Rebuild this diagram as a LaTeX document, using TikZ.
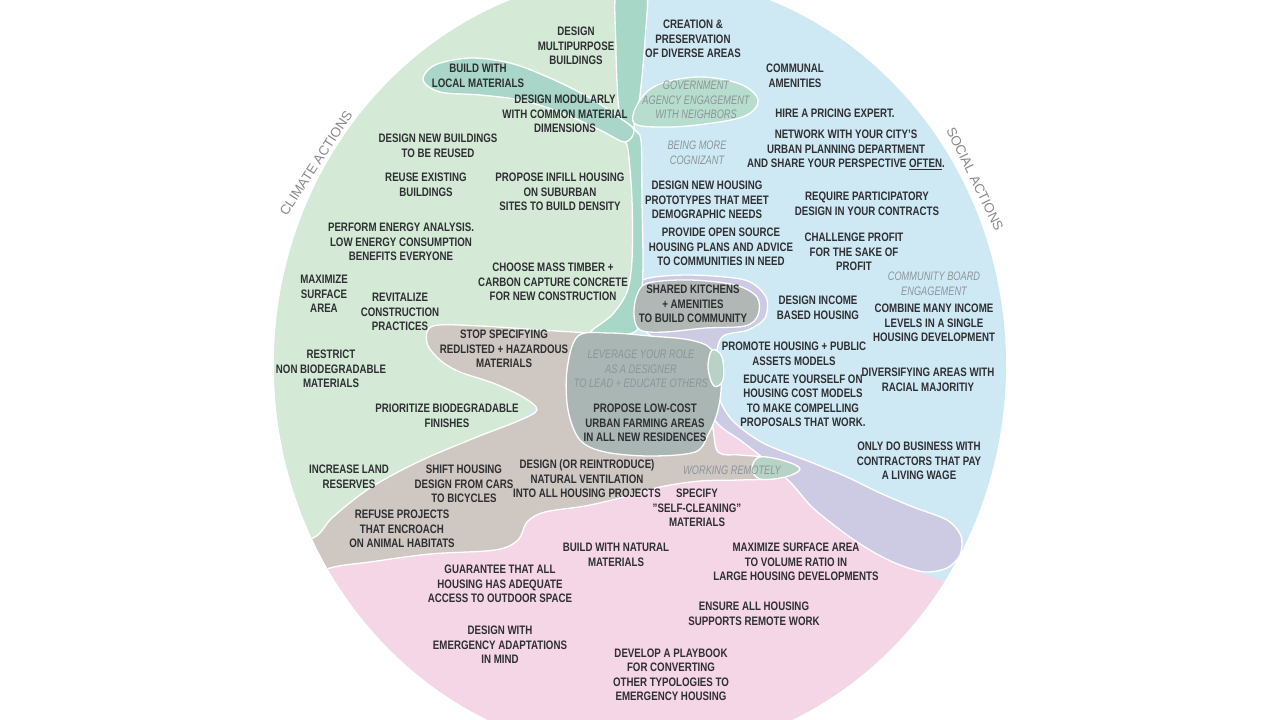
\documentclass[tikz,border=0pt]{standalone}
\usepackage{fontspec}
\setmainfont{Liberation Sans}[FakeStretch=0.79]
\newfontfamily\labelfont{Liberation Sans}
\newfontfamily\softfont{Liberation Sans}[FakeStretch=0.75]
\definecolor{cgreen}{HTML}{D4EAD6}
\definecolor{cblue}{HTML}{CFE9F4}
\definecolor{cpink}{HTML}{F5D6E6}
\definecolor{ctaupe}{HTML}{CFC7C2}
\definecolor{cteal}{HTML}{A6D7C7}
\definecolor{cleaf}{HTML}{B6DDCD}
\definecolor{clocal}{HTML}{A9D6C8}
\definecolor{cblob}{HTML}{A9B6B4}
\definecolor{ckitchen}{HTML}{B0B7B4}
\definecolor{clav}{HTML}{CDCBE3}
\definecolor{cmint}{HTML}{B7D3C6}
\definecolor{ctxt}{HTML}{2E2F33}
\definecolor{csoft}{HTML}{8C959A}
\definecolor{csect}{HTML}{8A8A8A}
\begin{document}
\begin{tikzpicture}[x=1pt,y=-1pt,
  act/.style={align=center, font=\fontsize{12.3}{14.5}\selectfont\bfseries, text=ctxt, inner sep=0pt},
  softlbl/.style={align=center, font=\softfont\fontsize{12.3}{14.5}\selectfont\itshape, text=csoft, inner sep=0pt},
  sect/.style={font=\labelfont\fontsize{13.5}{16}\selectfont, text=csect, inner sep=0pt},
  region/.style={draw=white, line width=1.3pt, line join=round}]
\useasboundingbox (0,0) rectangle (1280,720);
\fill[white] (0,0) rectangle (1280,720);
\begin{scope}
\clip (640,365) ellipse [x radius=366pt, y radius=390pt];
% base
\fill[cblue] (0,-50) rectangle (1280,800);
% green (climate)
\fill[cgreen] (637,-30) -- (637,270) -- (615,320) -- (570,345) -- (545,400) -- (480,450) -- (330,545) -- (250,600) -- (150,600) -- (150,-30) -- cycle;
% pink
\fill[cpink] (150,575) -- (340,555) -- (480,540) -- (520,515) -- (600,498) -- (660,482) -- (705,465) -- (708,440) -- (716,422) -- (745,445) -- (790,478) -- (847,535) -- (900,565) -- (1100,640) -- (1100,800) -- (150,800) -- cycle;
% lavender band
\filldraw[region, fill=clav] plot[smooth cycle, tension=0.5] coordinates {
 (645,279) (690,275) (745,280) (766,297) (765,318) (748,330) (722,337) (715,365)
 (718,395) (732,420) (763,443) (813,463) (847,477) (880,493) (913,507) (947,520)
 (961,536) (960,555) (947,568) (925,572) (900,565) (875,553) (847,535) (813,508)
 (790,482) (763,458) (740,440) (718,424) (700,395) (690,345) (655,338) (636,320) (635,295)};
% taupe
\filldraw[region, fill=ctaupe] plot[smooth cycle, tension=0.55] coordinates {
 (433,326) (480,326) (540,330) (600,334) (640,340) (680,350) (700,400) (712,425)
 (718,452) (740,455) (770,458) (799,469) (780,478) (740,480) (700,481) (660,487) (620,498)
 (585,506) (545,512) (527,522) (518,540) (495,550) (430,554) (370,562) (330,568)
 (290,585) (270,545) (313,538) (333,517) (370,488) (420,461) (477,437) (518,421)
 (537,410) (523,397) (493,383) (460,372) (440,360) (427,343)};
% working remotely tip
\filldraw[region, fill=cmint] plot[smooth cycle, tension=0.6] coordinates {
 (760,457) (785,461) (800,469) (785,477) (760,479) (752,468)};
% teal stem
\filldraw[region, fill=cteal] plot[smooth cycle, tension=0.5] coordinates {
 (617,-15) (646,-15) (645,40) (640,95) (634,127) (641,140) (642,200) (643,265)
 (641,300) (637,330) (615,335) (590,333) (612,315) (627,292) (632,260) (632,200)
 (628,150) (622,132) (618,100) (616,50)};
% local materials leaf
\filldraw[region, fill=clocal] plot[smooth cycle, tension=0.55] coordinates {
 (423,80) (435,65) (470,58) (510,63) (550,78) (590,98) (620,118) (634,130)
 (625,142) (600,130) (560,112) (520,100) (480,95) (440,92)};
% government leaf
\filldraw[region, fill=cleaf] plot[smooth cycle, tension=0.6] coordinates {
 (634,123) (640,100) (660,84) (700,77) (740,84) (758,100) (745,116) (705,124) (665,127)};
% center blob
\filldraw[region, fill=cblob] plot[smooth cycle, tension=0.55] coordinates {
 (578,336) (610,333) (650,336) (690,340) (712,350) (721,380) (718,410) (708,435)
 (695,452) (650,456) (605,452) (580,440) (568,410) (567,370)};
% mint patch
\filldraw[region, fill=cmint] plot[smooth cycle, tension=0.6] coordinates {
 (712,350) (722,357) (723,380) (714,386) (708,368)};
% shared kitchens
\filldraw[region, fill=ckitchen] plot[smooth cycle, tension=0.55] coordinates {
 (637,295) (648,283) (690,280) (735,285) (757,297) (758,315) (745,326) (705,328)
 (665,332) (640,330) (634,315)};
\end{scope}
% section labels
\node[sect, rotate=57] (climate) at (316,163) {CLIMATE ACTIONS};
\node[sect, rotate=-64] (social) at (975,179) {SOCIAL ACTIONS};
% climate actions
\node[act] (t1) at (576,46) {DESIGN\\MULTIPURPOSE\\BUILDINGS};
\node[act] (t2) at (478,76) {BUILD WITH\\LOCAL MATERIALS};
\node[act] (t3) at (565,114) {DESIGN MODULARLY\\WITH COMMON MATERIAL\\DIMENSIONS};
\node[act] (t4) at (438,146) {DESIGN NEW BUILDINGS\\TO BE REUSED};
\node[act] (t5) at (426,185) {REUSE EXISTING\\BUILDINGS};
\node[act] (t6) at (560,192) {PROPOSE INFILL HOUSING\\ON SUBURBAN\\SITES TO BUILD DENSITY};
\node[act] (t7) at (401,242) {PERFORM ENERGY ANALYSIS.\\LOW ENERGY CONSUMPTION\\BENEFITS EVERYONE};
\node[act] (t8) at (324,294) {MAXIMIZE\\SURFACE\\AREA};
\node[act] (t9) at (400,312) {REVITALIZE\\CONSTRUCTION\\PRACTICES};
\node[act] (t10) at (553,282) {CHOOSE MASS TIMBER +\\CARBON CAPTURE CONCRETE\\FOR NEW CONSTRUCTION};
\node[act] (t11) at (331,369) {RESTRICT\\NON BIODEGRADABLE\\MATERIALS};
\node[act] (t12) at (447,416) {PRIORITIZE BIODEGRADABLE\\FINISHES};
\node[act] (t13) at (349,477) {INCREASE LAND\\RESERVES};
\node[act] (t14) at (504,349) {STOP SPECIFYING\\REDLISTED + HAZARDOUS\\MATERIALS};
\node[act] (t15) at (464,484) {SHIFT HOUSING\\DESIGN FROM CARS\\TO BICYCLES};
\node[act] (t16) at (587,479) {DESIGN (OR REINTRODUCE)\\NATURAL VENTILATION\\INTO ALL HOUSING PROJECTS};
\node[act] (t17) at (402,529) {REFUSE PROJECTS\\THAT ENCROACH\\ON ANIMAL HABITATS};
% center
\node[softlbl] (c1) at (641,369) {LEVERAGE YOUR ROLE\\AS A DESIGNER\\TO LEAD + EDUCATE OTHERS};
\node[act] (c2) at (645,423) {PROPOSE LOW-COST\\URBAN FARMING AREAS\\IN ALL NEW RESIDENCES};
\node[act] (c3) at (693,304) {SHARED KITCHENS\\+ AMENITIES\\TO BUILD COMMUNITY};
\node[softlbl] (c4) at (732,470) {WORKING REMOTELY};
% social actions
\node[act] (s1) at (693,39) {CREATION \&\\PRESERVATION\\OF DIVERSE AREAS};
\node[softlbl] (s2) at (696,100) {GOVERNMENT\\AGENCY ENGAGEMENT\\WITH NEIGHBORS};
\node[act] (s3) at (795,76) {COMMUNAL\\AMENITIES};
\node[act] (s4) at (835,113) {HIRE A PRICING EXPERT.};
\node[act] (s5) at (846,150) {NETWORK WITH YOUR CITY'S\\URBAN PLANNING DEPARTMENT\\AND SHARE YOUR PERSPECTIVE \underline{OFTEN}.};
\node[softlbl] (s6) at (697,153) {BEING MORE\\COGNIZANT};
\node[act] (s7) at (707,200) {DESIGN NEW HOUSING\\PROTOTYPES THAT MEET\\DEMOGRAPHIC NEEDS};
\node[act] (s8) at (867,204) {REQUIRE PARTICIPATORY\\DESIGN IN YOUR CONTRACTS};
\node[act] (s9) at (721,247) {PROVIDE OPEN SOURCE\\HOUSING PLANS AND ADVICE\\TO COMMUNITIES IN NEED};
\node[act] (s10) at (854,252) {CHALLENGE PROFIT\\FOR THE SAKE OF\\PROFIT};
\node[softlbl] (s11) at (934,284) {COMMUNITY BOARD\\ENGAGEMENT};
\node[act] (s12) at (818,308) {DESIGN INCOME\\BASED HOUSING};
\node[act] (s13) at (934,323) {COMBINE MANY INCOME\\LEVELS IN A SINGLE\\HOUSING DEVELOPMENT};
\node[act] (s14) at (794,354) {PROMOTE HOUSING + PUBLIC\\ASSETS MODELS};
\node[act] (s15) at (928,380) {DIVERSIFYING AREAS WITH\\RACIAL MAJORITIY};
\node[act] (s16) at (803,401) {EDUCATE YOURSELF ON\\HOUSING COST MODELS\\TO MAKE COMPELLING\\PROPOSALS THAT WORK.};
\node[act] (s17) at (919,461) {ONLY DO BUSINESS WITH\\CONTRACTORS THAT PAY\\A LIVING WAGE};
% pink
\node[act] (p1) at (697,508) {SPECIFY\\"SELF-CLEANING"\\MATERIALS};
\node[act] (p2) at (616,555) {BUILD WITH NATURAL\\MATERIALS};
\node[act] (p3) at (796,562) {MAXIMIZE SURFACE AREA\\TO VOLUME RATIO IN\\LARGE HOUSING DEVELOPMENTS};
\node[act] (p4) at (500,584) {GUARANTEE THAT ALL\\HOUSING HAS ADEQUATE\\ACCESS TO OUTDOOR SPACE};
\node[act] (p5) at (754,614) {ENSURE ALL HOUSING\\SUPPORTS REMOTE WORK};
\node[act] (p6) at (500,645) {DESIGN WITH\\EMERGENCY ADAPTATIONS\\IN MIND};
\node[act] (p7) at (671,675) {DEVELOP A PLAYBOOK\\FOR CONVERTING\\OTHER TYPOLOGIES TO\\EMERGENCY HOUSING};
\end{tikzpicture}
\end{document}
